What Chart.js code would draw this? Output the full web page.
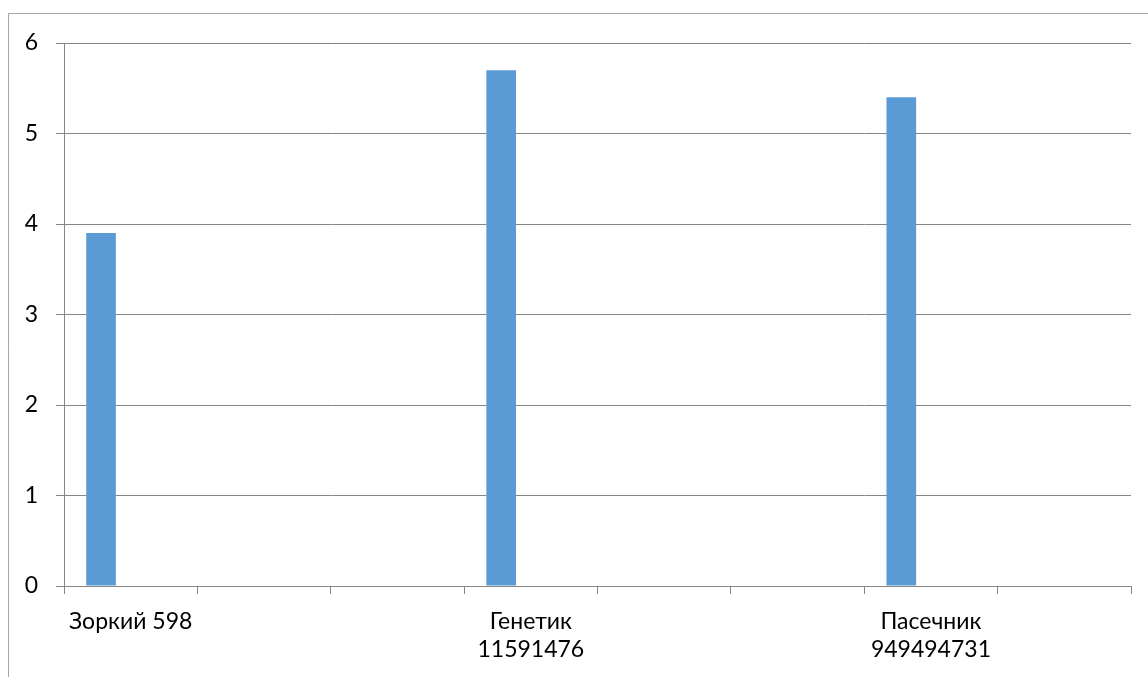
<!DOCTYPE html>
<html>
<head>
<meta charset="utf-8">
<script src="https://cdn.jsdelivr.net/npm/chart.js@4/dist/chart.umd.min.js"></script>
<style>
  html, body { margin: 0; padding: 0; background: #fff; }
  #wrap { width: 1148px; height: 677px; position: relative; }
</style>
</head>
<body>
<div id="wrap"><canvas id="chart"></canvas></div>
<script>
// categories (Excel shows every 3rd label only)
const categories = [
  "Зоркий 598", "", "",
  ["Генетик", "11591476"], "", "",
  ["Пасечник", "949494731"], ""
];
const series1 = [3.9, null, null, 5.7, null, null, 5.4, null];
const series2 = [null, null, null, null, null, null, null, null];
const series3 = [null, null, null, null, null, null, null, null];
const yTicks = [0, 1, 2, 3, 4, 5, 6];

const lineColor = "#868686";

// outer chart frame (cropped at right/bottom)
const frame = {
  id: "frame",
  beforeDraw(chart) {
    const c = chart.ctx;
    c.save();
    c.strokeStyle = "#a6a6a6";
    c.lineWidth = 1;
    c.beginPath();
    c.moveTo(8.5, 677);
    c.lineTo(8.5, 13.5);
    c.lineTo(1148, 13.5);
    c.stroke();
    c.restore();
  }
};

new Chart(document.getElementById("chart"), {
  type: "bar",
  data: {
    labels: categories,
    datasets: [
      { label: "Ряд 1", data: series1, backgroundColor: "#5b9bd5" },
      { label: "Ряд 2", data: series2, backgroundColor: "#ed7d31" },
      { label: "Ряд 3", data: series3, backgroundColor: "#a5a5a5" }
    ]
  },
  options: {
    responsive: true,
    maintainAspectRatio: false,
    animation: false,
    datasets: { bar: { categoryPercentage: 3 / 4.5, barPercentage: 1 } },
    layout: { padding: { left: 0, top: 43, right: 17, bottom: 0 } },
    plugins: { legend: { display: false }, tooltip: { enabled: false } },
    scales: {
      x: {
        offset: true,
        grid: { offset: true, drawOnChartArea: false, color: lineColor, tickLength: 8 },
        border: { color: lineColor },
        ticks: {
          autoSkip: false, maxRotation: 0, color: "#000",
          font: { family: "Lato", size: 23 }, padding: 14, lineHeight: 1.48
        },
        afterFit(s) { s.height = 91; }
      },
      y: {
        min: 0, max: 6,
        afterBuildTicks(s) { s.ticks = yTicks.map(v => ({ value: v })); },
        grid: { color: lineColor, tickLength: 8 },
        border: { color: lineColor },
        ticks: { color: "#000", font: { family: "Lato", size: 23 }, padding: 18 },
        afterFit(s) { s.width = 64; }
      }
    }
  },
  plugins: [frame]
});
</script>
</body>
</html>
